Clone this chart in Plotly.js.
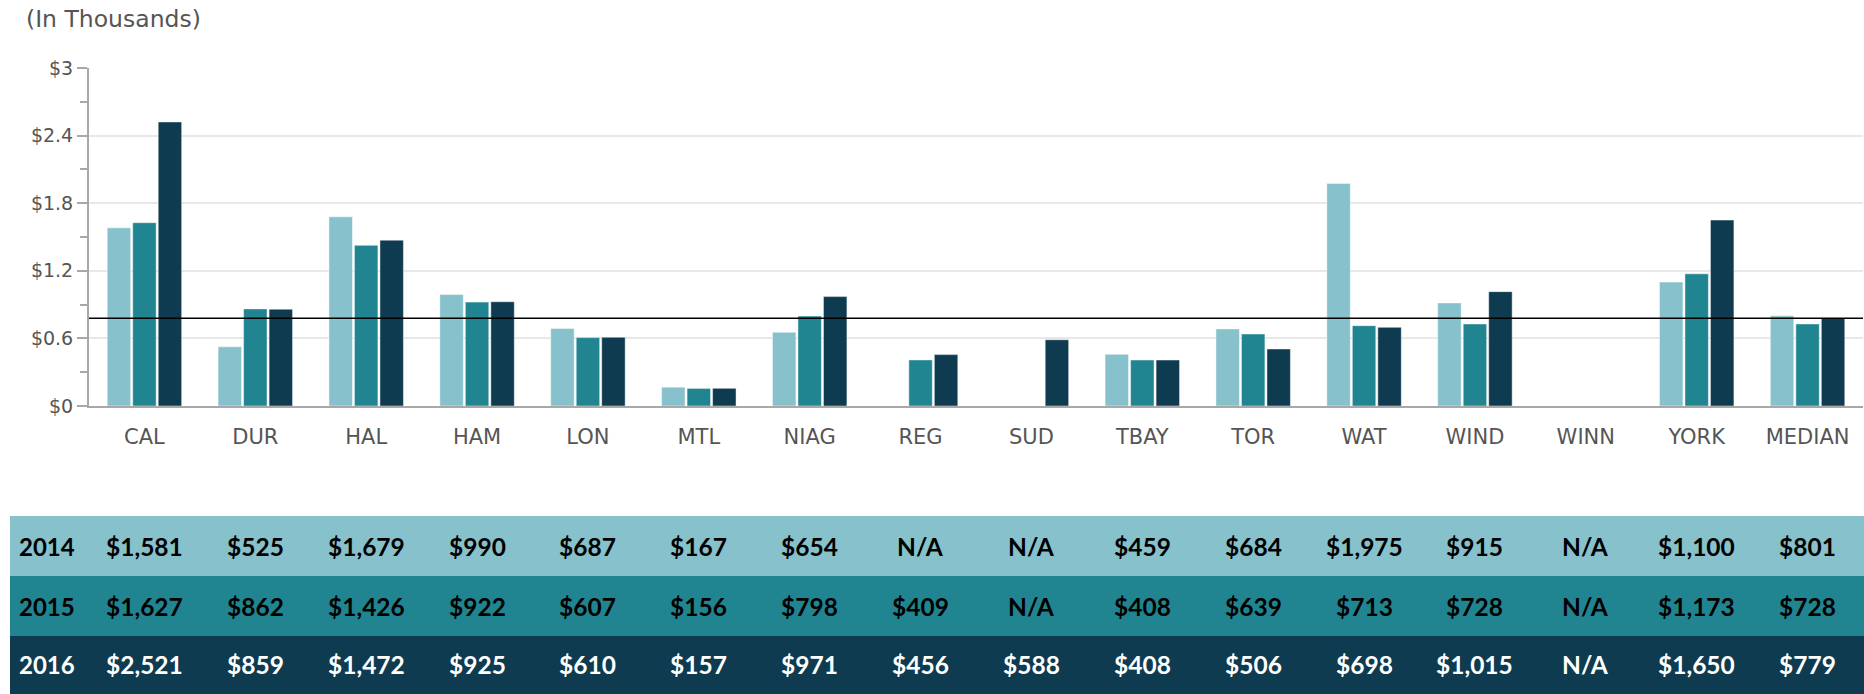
<!DOCTYPE html>
<html><head><meta charset="utf-8">
<script src="https://cdn.plot.ly/plotly-3.0.1.min.js"></script>
<style>html,body{margin:0;padding:0;background:#fff;overflow:hidden;} #chart{width:1864px;height:694px;}</style>
</head><body><div id="chart"></div>
<script>
const categories = ['CAL','DUR','HAL','HAM','LON','MTL','NIAG','REG','SUD','TBAY','TOR','WAT','WIND','WINN','YORK','MEDIAN'];
const years = ['2014','2015','2016'];
const values2014 = [1581,525,1679,990,687,167,654,null,null,459,684,1975,915,null,1100,801];
const values2015 = [1627,862,1426,922,607,156,798,409,null,408,639,713,728,null,1173,728];
const values2016 = [2521,859,1472,925,610,157,971,456,588,408,506,698,1015,null,1650,779];
const yTickVals = [0,0.6,1.2,1.8,2.4,3];
const yTickText = ['$0','$0.6','$1.2','$1.8','$2.4','$3'];
const colors = ['#86c1cc','#218591','#0f3b50'];
const textColors = ['#000000','#000000','#ffffff'];

const series = [values2014, values2015, values2016];
const W = 1864, H = 694;
const mL = 89, mR = 1, mT = 68, mB = 288;
const plotW = W - mL - mR, plotH = H - mT - mB;
const px2x = px => (px - mL) / plotW;
const py2y = py => (H - mB - py) / plotH;

const traces = series.map((vals, i) => ({
  type: 'bar',
  name: years[i],
  x: categories,
  y: vals.map(v => v == null ? null : v / 1000),
  marker: {color: colors[i], line: {color: 'rgba(255,255,255,0.45)', width: 1}},
  hoverinfo: 'x+y+name'
}));

const fmt = v => v == null ? 'N/A' : '$' + v.toLocaleString('en-US');
const rowTops = [516, 576, 636];
const rowBottoms = [576, 636, 700];

const shapes = [];
const annotations = [];
series.forEach((vals, r) => {
  shapes.push({type: 'rect', xref: 'paper', yref: 'paper', x0: px2x(10), x1: px2x(1870),
    y0: py2y(rowBottoms[r]), y1: py2y(rowTops[r]), fillcolor: colors[r], line: {width: 0}, layer: 'below'});
  const yc = py2y((rowTops[r] + Math.min(rowBottoms[r], 694)) / 2 + (r === 2 ? -1 : 0));
  annotations.push({xref: 'paper', yref: 'paper', x: px2x(17), y: yc, xanchor: 'left', yanchor: 'middle',
    text: years[r], showarrow: false, font: {family: 'Lato', size: 24, weight: 700, color: textColors[r]}});
  vals.forEach((v, c) => {
    annotations.push({xref: 'x', yref: 'paper', x: categories[c], y: yc, xanchor: 'center', yanchor: 'middle',
      text: fmt(v), showarrow: false, font: {family: 'Lato', size: 24.5, weight: 700, color: textColors[r]}});
  });
});

const medianVal = values2016[values2016.length - 1] / 1000;
shapes.push({type: 'line', xref: 'paper', yref: 'y', x0: 0, x1: 1, y0: medianVal, y1: medianVal,
  line: {color: '#000000', width: 1.5}});

annotations.push({xref: 'paper', yref: 'paper', x: px2x(24), y: py2y(19), xanchor: 'left', yanchor: 'middle',
  text: '(In Thousands)', showarrow: false, font: {family: 'DejaVu Sans', size: 23.5, color: '#555555'}});

const layout = {
  width: W, height: H,
  margin: {l: mL, r: mR, t: mT, b: mB, pad: 0},
  paper_bgcolor: '#ffffff', plot_bgcolor: '#ffffff',
  showlegend: false,
  barmode: 'group', bargap: 0.31, bargroupgap: 0.08,
  font: {family: 'DejaVu Sans', color: '#555555'},
  xaxis: {
    type: 'category', showline: true, linecolor: '#a8a8a8', linewidth: 2,
    ticks: '', showgrid: false, zeroline: false,
    tickfont: {family: 'DejaVu Sans', size: 21, color: '#555555'},
    ticklabelstandoff: 11, fixedrange: true
  },
  yaxis: {
    range: [0, 3], tickmode: 'array', tickvals: yTickVals, ticktext: yTickText,
    showline: true, linecolor: '#a8a8a8', linewidth: 2,
    ticks: 'outside', ticklen: 10, tickwidth: 2, tickcolor: '#a8a8a8',
    showgrid: true, gridcolor: '#e8e8e8', gridwidth: 2, zeroline: false,
    tickfont: {family: 'DejaVu Sans', size: 19, color: '#555555'},
    minor: {dtick: 0.3, tick0: 0, ticks: 'outside', ticklen: 7, tickwidth: 2, tickcolor: '#a8a8a8', showgrid: false},
    fixedrange: true
  },
  shapes: shapes,
  annotations: annotations
};

Plotly.newPlot('chart', traces, layout, {displayModeBar: false, staticPlot: true});
</script>
</body></html>
